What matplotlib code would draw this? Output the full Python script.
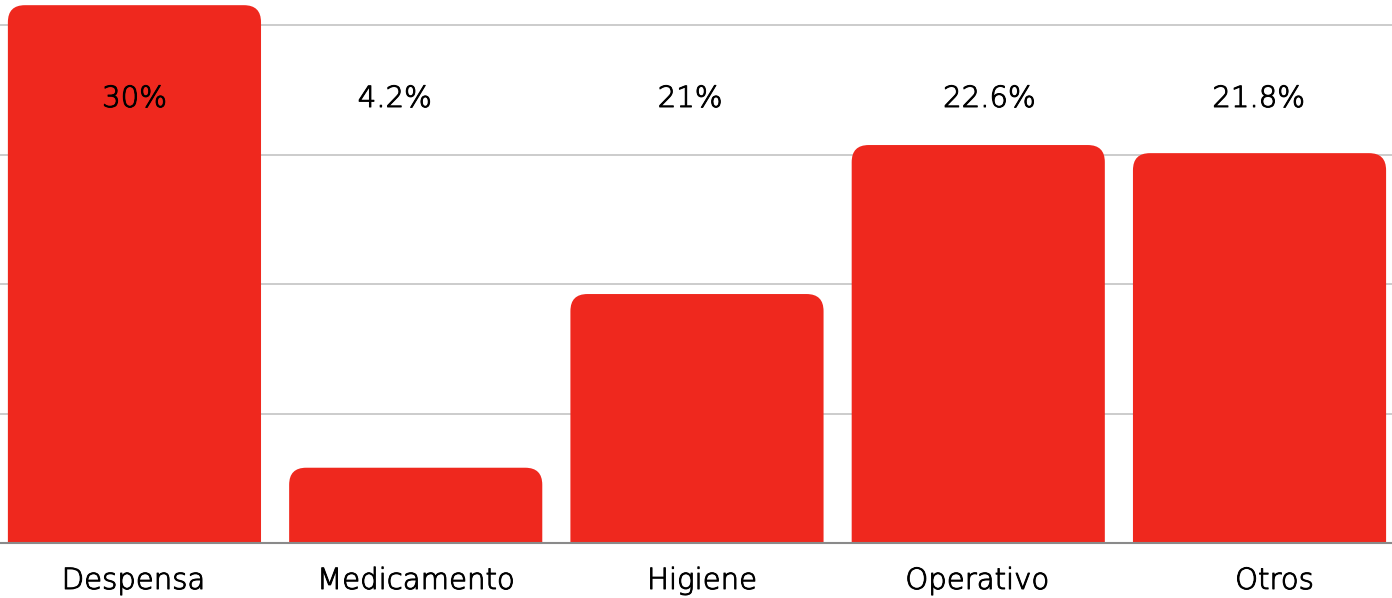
import numpy as np
import matplotlib
matplotlib.use('Agg')
import matplotlib.pyplot as plt
import matplotlib.patheffects as pe
from matplotlib.patches import FancyBboxPatch
from matplotlib.transforms import blended_transform_factory, offset_copy

categories = ["Despensa", "Medicamento", "Higiene", "Operativo", "Otros"]
bar_values = [31.15, 4.36, 14.42, 23.05, 22.58]
value_labels = ["30%", "4.2%", "21%", "22.6%", "21.8%"]
grid_ticks = [7.5, 15, 22.5, 30]

# small horizontal nudges (pixels) of the texts, as placed in the original
value_nudge = [0, -21, -7, 11, -1]
cat_nudge = [-1, 0, 5, -1, 15]

RED = "#EF281E"
W, H = 1392, 598

plt.rcParams['font.family'] = ['DejaVu Sans']

fig = plt.figure(figsize=(W / 100, H / 100), dpi=100)
ax = fig.add_axes([0, 55 / H, 1, 543 / H])
ax.set_xlim(-0.478, 4.471)
ax.set_ylim(0, 31.45)
ax.axis('off')

for t in grid_ticks:
    ax.axhline(t, color="#c8c8c8", linewidth=1.3, zorder=1)

x = np.arange(len(categories))
bars = ax.bar(x, bar_values, width=0.9, color=RED, zorder=2)

# rounded top corners: swap each bar for a rounded box reaching below the baseline
px_x = W / (4.471 + 0.478)
px_y = 543 / 31.45
r = 17 / px_x
for b in bars:
    b.set_visible(False)
    ext = 2.0
    p = FancyBboxPatch((b.get_x(), -ext), b.get_width(), b.get_height() + ext,
                       boxstyle="round,pad=0,rounding_size=%f" % r,
                       mutation_aspect=px_x / px_y,
                       facecolor=RED, edgecolor="none", zorder=2)
    ax.add_patch(p)

ax.axhline(0, color="#8a8a8a", linewidth=1.5, zorder=3, clip_on=False)

trans = blended_transform_factory(ax.transData, fig.transFigure)
stroke = [pe.withStroke(linewidth=0.7, foreground="#000000")]
for i, lab in enumerate(value_labels):
    t = offset_copy(trans, fig=fig, x=value_nudge[i], units='dots')
    ax.text(i, (H - 107) / H, lab, transform=t, ha="center", va="baseline",
            fontsize=21, fontweight="light", color="#000000", zorder=4,
            path_effects=stroke)

for i, cat in enumerate(categories):
    t = offset_copy(trans, fig=fig, x=cat_nudge[i], units='dots')
    fig.text(i, (H - 589) / H, cat, transform=t, ha="center", va="baseline",
             fontsize=21, fontweight="light", color="#000000",
             path_effects=stroke)

fig.savefig("out.png", dpi=100)
